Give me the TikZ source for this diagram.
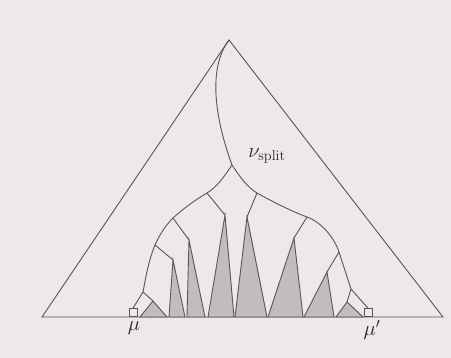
\documentclass[tikz,border=0pt]{standalone}
\usepackage{amsmath, amssymb}
\usepackage{tikz}
\usetikzlibrary{calc}
\usepackage{xcolor}
\definecolor{bgpaper}{RGB}{237, 233, 233}
\definecolor{treeline}{RGB}{88, 84, 88}
\definecolor{subtreegray}{RGB}{193, 188, 190}
\tikzset{
  treepath/.style={treeline, line width=0.9pt},
  subtree/.style={treeline, line width=0.9pt, fill=subtreegray},
  leafbox/.style={draw=treeline, line width=0.8pt, minimum size=8pt, inner sep=0pt, anchor=south},
  lbl/.style={text=black!85, font=\fontsize{22}{26}\selectfont, inner sep=0pt}
}

\begin{document}
\begin{tikzpicture}[x=1pt, y=-1pt]

  % Paper
  \fill[bgpaper] (0,0) rectangle (451,358);
  \useasboundingbox (0,0) rectangle (451,358);

  % Whole tree
  \coordinate (root) at (229,40);
  \coordinate (baseL) at (42,317);
  \coordinate (baseR) at (443,317);
  \draw[treepath] (baseL) -- (root) -- (baseR) -- cycle;

  % Search path nodes
  \coordinate (vsplit) at (232,165);
  \coordinate (la) at (207,193);
  \coordinate (lb) at (173,218);
  \coordinate (lc) at (155,245);
  \coordinate (ld) at (143,292);
  \coordinate (ra) at (257,193);
  \coordinate (rb) at (307,217);
  \coordinate (rc) at (339,252);
  \coordinate (rd) at (351,289);

  % Roots of the selected subtrees
  \coordinate (sa) at (153,301);
  \coordinate (sb) at (173,260);
  \coordinate (sc) at (189,240);
  \coordinate (sd) at (225,215);
  \coordinate (se) at (247,217);
  \coordinate (sf) at (294,238);
  \coordinate (sg) at (327,272);
  \coordinate (sh) at (347,302);

  % Selected subtrees
  \foreach \s/\bl/\br in {sa/140/167, sb/169/185, sc/187/205, sd/208/234,
                          se/235/267, sf/268/303, sg/304/334, sh/336/363}
    \filldraw[subtree] (\s) -- (\bl,317) -- (\br,317) -- cycle;

  % Leaves
  \node[leafbox] (mu) at (133,317) {};
  \node[leafbox] (mup) at (368,317) {};

  % Path from the root to the split node
  \draw[treepath] (root) .. controls +(-19,25) and +(-20,-55) .. (vsplit);

  % Left path
  \draw[treepath] (vsplit) .. controls +(-8,12) and +(10,-6) .. (la)
                           .. controls +(-12,7) and +(10,-9) .. (lb)
                           .. controls +(-8,8) and +(4,-9) .. (lc)
                           .. controls +(-6,14) and +(3,-16) .. (ld)
                           -- (mu.north);

  % Right path
  \draw[treepath] (vsplit) .. controls +(8,12) and +(-10,-6) .. (ra)
                           .. controls +(16,9) and +(-16,-6) .. (rb)
                           .. controls +(14,5) and +(-5,-15) .. (rc)
                           -- (rd)
                           -- (mup.north);

  % Branches into the subtrees
  \draw[treepath] (la) -- (sd);
  \draw[treepath] (lb) -- (sc);
  \draw[treepath] (lc) -- (sb);
  \draw[treepath] (ld) -- (sa);
  \draw[treepath] (ra) -- (se);
  \draw[treepath] (rb) -- (sf);
  \draw[treepath] (rc) -- (sg);
  \draw[treepath] (rd) -- (sh);

  % Labels
  \node[lbl] (vsplitlbl) at (267,156) {$\nu_{\mathrm{split}}$};
  \node[lbl] (mulbl) at (134,328) {$\mu$};
  \node[lbl] (muplbl) at (372,330) {$\mu'$};

\end{tikzpicture}
\end{document}
